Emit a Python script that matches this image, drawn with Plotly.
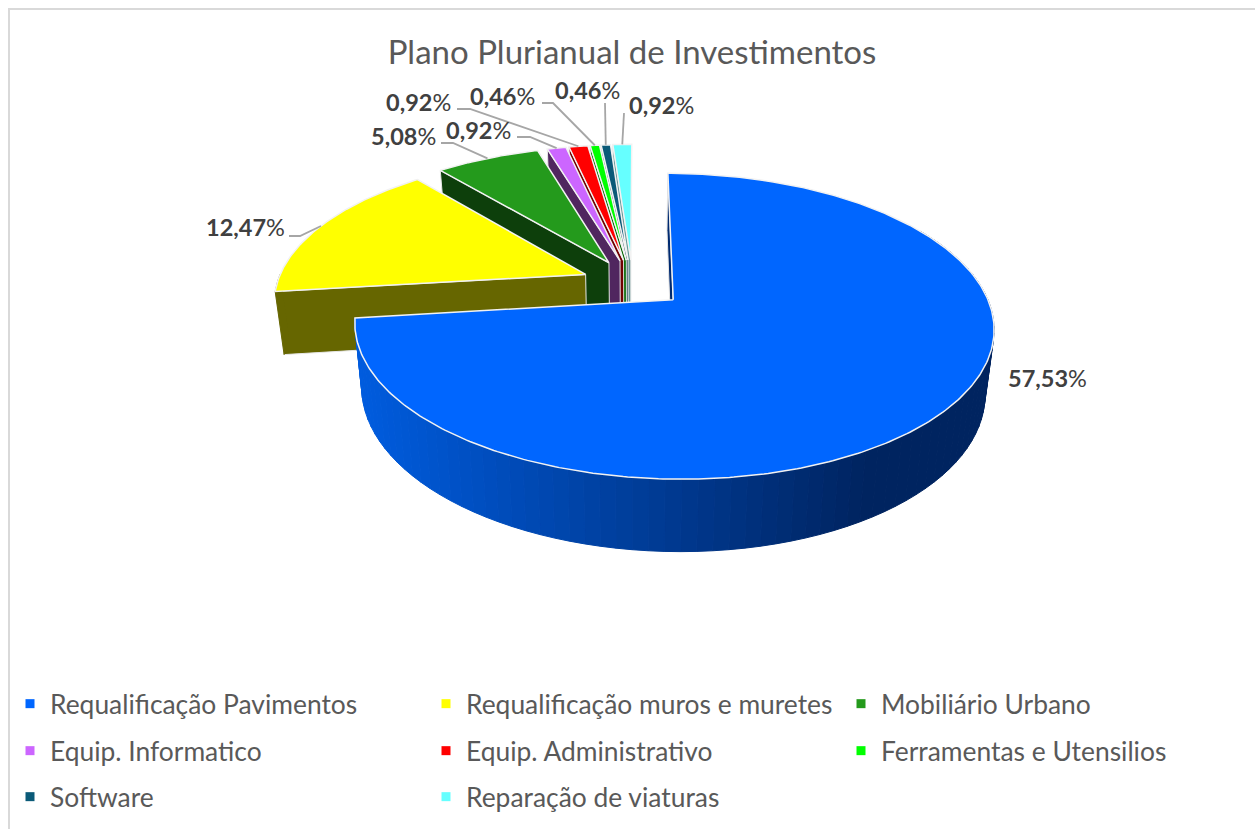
import numpy as np
import plotly.graph_objects as go

# ---- data ----
categories = ["Requalificação Pavimentos", "Requalificação muros e muretes", "Mobiliário Urbano",
              "Equip. Informatico", "Equip. Administrativo", "Ferramentas e Utensilios",
              "Software", "Reparação de viaturas"]
percent_values = [57.53, 12.47, 5.08, 0.92, 0.92, 0.46, 0.46, 0.92]
percent_labels = ["57,53", "12,47", "5,08", "0,92", "0,92", "0,46", "0,46", "0,92"]
title_text = "Plano Plurianual de Investimentos"

# ---- styles ----
top_colors = ["#0066ff", "#ffff00", "#249a1c", "#cc66ff", "#ff0000", "#00ff00", "#0b5a78", "#66ffff"]
wall_colors = ["#002a70", "#666600", "#0d3f0b", "#50265f", "#700000", "#006600", "#17404f", "#669999"]
FONT = "Lato"
TEXT = "#595959"
LABEL = "#404040"
LEADER = "#a6a6a6"

# ---- projection of the tilted, exploded pie (pixel space) ----
CX, CY, AX, KY, P = 632.5, 283.0, 308.6, 142.6, 0.17
EXPLODE, EXPLODE_FIRST, START = 0.165, 0.173, 0.15
VX, SHRINK = 632.0, 0.975


def project(X, Y):
    d = 1 + P * Y
    return CX + AX * X / d, CY - KY * Y / d


def lower(x, y):
    return VX + (x - VX) * SHRINK, y + 61 + (y - 250) * 0.05


vals = np.array(percent_values)
sweeps = vals / vals.sum() * 360
starts = START + np.concatenate([[0], np.cumsum(sweeps)[:-1]])
ends = starts + sweeps
mids = (starts + ends) / 2


def slice_point(i, theta, rho=1.0):
    b, t = np.radians(mids[i]), np.radians(theta)
    e = EXPLODE_FIRST if i == 0 else EXPLODE
    return project(e * np.sin(b) + rho * np.sin(t), e * np.cos(b) + rho * np.cos(t))


def blue_wall_color(x):
    f = float(np.clip((x - 360) / (870 - 360), 0, 1))
    a, b = np.array([0, 92, 222]), np.array([0, 36, 96])
    c = a + (b - a) * f
    return f"rgb({int(c[0])},{int(c[1])},{int(c[2])})"


fig = go.Figure()


def poly(xs, ys, fill, line=None, width=1.0):
    fig.add_trace(go.Scatter(x=list(xs) + [xs[0]], y=list(ys) + [ys[0]], mode="lines", fill="toself",
                             fillcolor=fill, line=dict(color=line or fill, width=width),
                             hoverinfo="skip", showlegend=False))


# painter's order: back slices first, the large front slice last
for i in range(len(vals) - 1, -1, -1):
    th = np.linspace(starts[i], ends[i], max(8, int(sweeps[i] * 1.5)))
    ax_, ay_ = slice_point(i, 0, 0)
    # radial wall at the start edge
    ox, oy = slice_point(i, starts[i])
    bx0, by0 = lower(ox, oy)
    bx1, by1 = lower(ax_, ay_)
    poly([ox, ax_, bx1, bx0], [oy, ay_, by1, by0], wall_colors[i], "#e6e6e6", 1.0)
    if i == 0:
        # curved outer wall, shaded across the picture
        edges = np.arange(60, ends[0], 2.5).tolist() + [ends[0]]
        for t0, t1 in zip(edges[:-1], edges[1:]):
            x0, y0 = slice_point(0, t0)
            x1, y1 = slice_point(0, t1)
            x2, y2 = lower(x1, y1)
            x3, y3 = lower(x0, y0)
            poly([x0, x1, x2, x3], [y0, y1, y2, y3], blue_wall_color((x0 + x1) / 2))
    elif starts[i] < 270:
        edges = np.linspace(starts[i], 270, 6)
        xs, ys = zip(*[slice_point(i, t) for t in edges])
        lx, ly = zip(*[lower(*slice_point(i, t)) for t in edges[::-1]])
        poly(list(xs) + list(lx), list(ys) + list(ly), wall_colors[i])
    # top face
    px, py = zip(*[slice_point(i, t) for t in th])
    poly([ax_] + list(px), [ay_] + list(py), top_colors[i], "#f2f2f2", 1.5)

# ---- leader lines: label anchor -> elbow -> middle of the slice's arc ----
leader_starts = [None, (289, 236), (441, 143), (517, 137), (457, 109), (542, 103), (605, 103), (624, 113)]
leader_elbows = [None, (300, 236), (453, 143), (530, 137), (470, 109), (553, 103), (605, 103), (624, 113)]
for i in range(1, len(vals)):
    ex, ey = slice_point(i, mids[i])
    fig.add_trace(go.Scatter(x=[leader_starts[i][0], leader_elbows[i][0], ex],
                             y=[leader_starts[i][1], leader_elbows[i][1], ey],
                             mode="lines", line=dict(color=LEADER, width=1.8),
                             hoverinfo="skip", showlegend=False))

# ---- data labels ----
label_centers = [(1047, 378), (245, 227), (403, 136), (478, 130), (418, 102), (502, 96), (587, 90), (661, 105)]
annotations = [dict(x=c[0], y=c[1], xref="x", yref="y", text=f"<b>{t}</b>%", showarrow=False,
                    xanchor="center", yanchor="middle", font=dict(family=FONT, size=23.5, color=LABEL))
               for c, t in zip(label_centers, percent_labels)]

# ---- legend: one small legend per entry, placed on a 3-column grid ----
COL_X = [10, 426, 841]
ROW_Y = [704, 751, 797]
layout_legends = {}
for k, (name, color) in enumerate(zip(categories, top_colors)):
    key = "legend" if k == 0 else f"legend{k + 1}"
    fig.add_trace(go.Scatter(x=[None], y=[None], mode="markers", name=name, legend=key,
                             marker=dict(symbol="square", size=9, color=color), hoverinfo="skip"))
    layout_legends[key] = dict(orientation="h", x=COL_X[k % 3] / 1255, xanchor="left",
                               y=1 - ROW_Y[k // 3] / 829, yanchor="middle",
                               bgcolor="rgba(0,0,0,0)", borderwidth=0,
                               itemclick=False, itemdoubleclick=False,
                               font=dict(family=FONT, size=26.4, color=TEXT))

fig.update_layout(
    width=1255, height=829, margin=dict(l=0, r=0, t=0, b=0),
    paper_bgcolor="white", plot_bgcolor="white",
    title=dict(text=title_text, x=632 / 1255, xanchor="center", y=1 - 52 / 829, yanchor="middle",
               font=dict(family=FONT, size=33, color=TEXT)),
    xaxis=dict(range=[0, 1255], visible=False, fixedrange=True),
    yaxis=dict(range=[829, 0], visible=False, fixedrange=True),
    annotations=annotations,
    shapes=[dict(type="rect", xref="x", yref="y", x0=9, y0=9, x1=1400, y1=1000,
                 line=dict(color="#d9d9d9", width=2), layer="below")],
    **layout_legends,
)

fig.write_html("out.html", config={"displayModeBar": False},
               post_script="document.body.style.margin='0';document.body.style.overflow='hidden';")
